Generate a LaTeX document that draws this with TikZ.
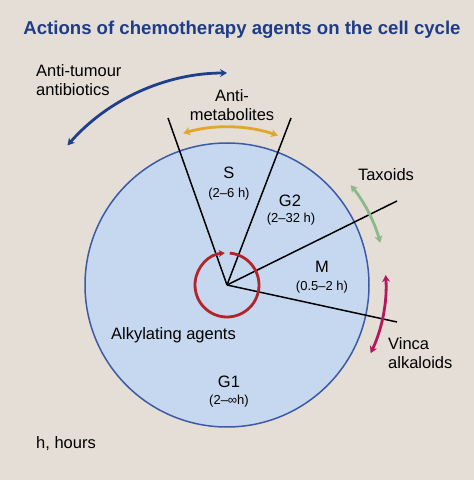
\documentclass[tikz,border=0pt]{standalone}
\usepackage{fontspec}
\setmainfont{Liberation Sans}
\usetikzlibrary{arrows.meta}
\definecolor{bgc}{HTML}{E4DED7}
\definecolor{cellfill}{HTML}{C6D8EF}
\definecolor{cellborder}{HTML}{3C5AA6}
\definecolor{titleblue}{HTML}{1F3D86}
\definecolor{antiblue}{HTML}{1F3F8A}
\definecolor{amgold}{HTML}{E2A62A}
\definecolor{taxgreen}{HTML}{8BB98A}
\definecolor{vincamag}{HTML}{B3195C}
\definecolor{redc}{HTML}{B3232A}
\tikzset{
  lbl/.style={font=\fontsize{16.5}{19}\selectfont, inner sep=0pt, text=black},
  sml/.style={font=\fontsize{13}{15}\selectfont, inner sep=0pt, text=black},
  phaseline/.style={black, line width=1.5pt},
  agentarrow/.style={line width=2.8pt, {Stealth[length=7pt,width=8pt]}-{Stealth[length=7pt,width=8pt]}}
}
\begin{document}
\begin{tikzpicture}[x=1pt,y=1pt]
\fill[bgc] (0,0) rectangle (474,480);
\useasboundingbox (0,0) rectangle (474,480);
% title
\node[font=\fontsize{18.6}{22}\selectfont\bfseries, text=titleblue, inner sep=0pt] (title) at (242,450) {Actions of chemotherapy agents on the cell cycle};
% cell
\coordinate (c) at (227,195);
\node[circle, minimum size=284pt, inner sep=0pt, fill=cellfill, draw=cellborder, line width=1.5pt] (cell) at (c) {};
% phase lines
\coordinate (sl) at (168,362);
\coordinate (sr) at (291,362);
\coordinate (gm) at (397,279);
\coordinate (mg) at (397,158);
\draw[phaseline] (c) -- (sl);
\draw[phaseline] (c) -- (sr);
\draw[phaseline] (c) -- (gm);
\draw[phaseline] (c) -- (mg);
% red cycle arrow
\draw[redc, line width=2.8pt, -{Stealth[length=6pt,width=7pt]}] (c) ++(85:32) arc (85:-266:32);
% agent arrows
\draw[agentarrow, antiblue] (c) ++(90:212) arc (90:138.8:212);
\draw[agentarrow, amgold] (c) ++(71.2:158) arc (71.2:106.1:158);
\draw[agentarrow, taxgreen] (c) ++(15.4:159) arc (15.4:38.9:159);
\draw[agentarrow, vincamag] (c) ++(-25.4:159) arc (-25.4:3.6:159);
% labels
\node[lbl, align=left, anchor=west] (ata) at (36,399.5) {Anti-tumour\\antibiotics};
\node[lbl, align=center] (am) at (232,375) {Anti-\\metabolites};
\node[lbl] (S) at (229,307) {S};
\node[sml] (St) at (229,286) {(2–6 h)};
\node[lbl] (G2) at (290,279) {G2};
\node[sml] (G2t) at (291,261) {(2–32 h)};
\node[lbl] (M) at (322,213) {M};
\node[sml] (Mt) at (322,193) {(0.5–2 h)};
\node[lbl] (tax) at (386,305) {Taxoids};
\node[lbl, align=left, anchor=west] (vin) at (388,126.5) {Vinca\\alkaloids};
\node[lbl] (alk) at (173.5,145) {Alkylating agents};
\node[lbl] (G1) at (229,98.5) {G1};
\node[sml] (G1t) at (229,78.5) {(2–∞h)};
\node[lbl, anchor=west] (hrs) at (36,36) {h, hours};
\end{tikzpicture}
\end{document}
